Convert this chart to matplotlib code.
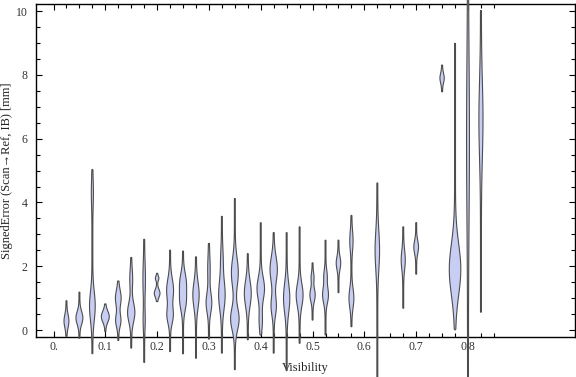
import numpy as np
import matplotlib
matplotlib.use("Agg")
import matplotlib.pyplot as plt

# bin centres (visibility) that have data
positions = [0.025, 0.05, 0.075, 0.1, 0.125, 0.15, 0.175, 0.2, 0.225, 0.25,
             0.275, 0.3, 0.325, 0.35, 0.375, 0.4, 0.425, 0.45, 0.475, 0.5,
             0.525, 0.55, 0.575, 0.625, 0.675, 0.7, 0.75, 0.775, 0.8, 0.825]
# min / max of signed error per bin [mm]
lows = [-0.2, -0.26, -0.75, -0.05, -0.33, -0.57, -1.02, 0.89, -0.68, -0.75,
        -0.89, -0.29, -0.73, -1.25, -0.31, -0.16, -0.73, -1.28, -0.42, 0.31,
        -0.16, 1.17, 0.1, -1.6, 0.68, 1.75, 7.47, 0.0, -1.6, 0.55]
highs = [0.92, 1.19, 5.04, 0.82, 1.54, 2.28, 2.85, 1.78, 2.51, 2.48,
         2.3, 2.72, 3.57, 4.13, 2.4, 3.37, 3.06, 3.06, 3.24, 2.11,
         2.82, 2.82, 3.6, 4.62, 3.24, 3.37, 8.31, 9.0, 10.6, 10.03]
# density modes per bin: (centre, spread, relative density)
modes = [
    [(0.28, 0.2, 2.0)],
    [(0.38, 0.2, 3.0)],
    [(0.75, 0.45, 2.4), (4.3, 0.4, 0.6)],
    [(0.42, 0.17, 3.5)],
    [(1.0, 0.25, 2.4), (0.3, 0.2, 2.2)],
    [(0.55, 0.3, 3.2), (1.6, 0.3, 1.0)],
    [(1.6, 0.5, 0.8), (0.3, 0.3, 0.6)],
    [(1.15, 0.12, 2.4), (1.62, 0.07, 1.3)],
    [(1.25, 0.35, 3.0), (0.45, 0.25, 2.6)],
    [(1.5, 0.3, 2.6), (0.9, 0.3, 2.6)],
    [(1.1, 0.4, 2.7)],
    [(0.85, 0.3, 2.4), (1.9, 0.4, 0.8)],
    [(1.1, 0.45, 2.8), (2.2, 0.4, 0.8)],
    [(0.35, 0.35, 3.8), (1.8, 0.45, 3.0)],
    [(1.15, 0.4, 3.0)],
    [(1.3, 0.35, 3.3), (0.3, 0.3, 1.2)],
    [(1.9, 0.4, 3.2), (0.75, 0.3, 2.2)],
    [(1.0, 0.45, 2.7)],
    [(1.1, 0.35, 3.0)],
    [(1.1, 0.2, 2.2), (1.65, 0.15, 1.0)],
    [(1.1, 0.25, 2.5), (1.7, 0.2, 1.2)],
    [(2.1, 0.2, 1.8)],
    [(1.0, 0.3, 2.0), (2.8, 0.3, 1.2)],
    [(2.5, 0.6, 1.8)],
    [(2.2, 0.3, 1.6)],
    [(2.6, 0.2, 1.9)],
    [(7.9, 0.15, 1.7)],
    [(1.9, 0.8, 5.3)],
    [(6.0, 2.5, 1.0)],
    [(6.6, 1.2, 1.6)],
]

x_major = [0, 0.1, 0.2, 0.3, 0.4, 0.5, 0.6, 0.7, 0.8]
x_labels = ["0.", "0.1", "0.2", "0.3", "0.4", "0.5", "0.6", "0.7", "0.8"]

fill_col = "#c8cdf3"
edge_col = "#4d4d4d"
scale = 0.00193   # density unit -> visibility axis width (about 1 px)
base = 0.45

fig = plt.figure(figsize=(5.76, 3.77), dpi=100)
ax = fig.add_axes([0.0625, 0.106, 0.936, 0.883])

for p, lo, hi, md in zip(positions, lows, highs, modes):
    y = np.linspace(lo, hi, 300)
    w = np.full_like(y, base)
    for c, s, h in md:
        w += h * np.exp(-0.5 * ((y - c) / s) ** 2)
    w *= scale
    w[0] = w[-1] = 0.0
    xs = np.concatenate([p - w, (p + w)[::-1]])
    ys = np.concatenate([y, y[::-1]])
    ax.fill(xs, ys, facecolor=fill_col, edgecolor=edge_col, lw=0.8,
            clip_on=False, zorder=3)

ax.set_xlim(-0.0338, 1.0068)
ax.set_ylim(-0.22, 10.22)

ax.set_xticks(x_major)
ax.set_xticklabels(x_labels)
ax.set_xticks([m for m in np.arange(0, 0.851, 0.025) if round(m / 0.1, 3) % 1 != 0], minor=True)
ax.set_yticks([0, 2, 4, 6, 8, 10])
ax.set_yticks(np.arange(0, 10.01, 0.5), minor=True)

serif = ["Liberation Serif", "DejaVu Serif"]
ax.tick_params(which="both", direction="in", top=True, right=True, width=0.8,
               colors="black", labelsize=8.5, labelcolor="#333333")
ax.tick_params(which="major", length=4.5)
ax.tick_params(which="minor", length=3)
ax.tick_params(axis="x", pad=3)
ax.tick_params(axis="y", pad=6)
for lab in ax.get_xticklabels() + ax.get_yticklabels():
    lab.set_family(serif)

for sp in ax.spines.values():
    sp.set_linewidth(1.0)

ax.set_xlabel("Visibility", family=serif, fontsize=9, color="#222222")
ax.set_ylabel("SignedError (Scan\u2192Ref, IB) [mm]", family=serif, fontsize=9,
              color="#222222")
ax.xaxis.set_label_coords(0.5, -0.076)
ax.yaxis.set_label_coords(-0.042, 0.5)

fig.savefig("out.png", dpi=100)
